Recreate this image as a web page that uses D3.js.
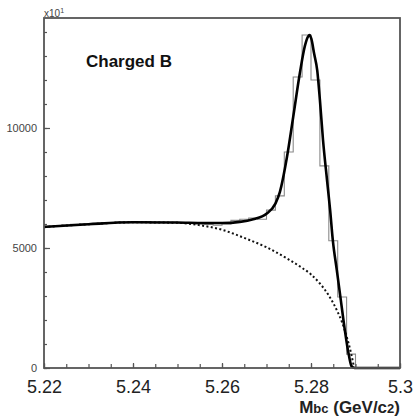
<!DOCTYPE html>
<html><head><meta charset="utf-8">
<script src="https://cdn.jsdelivr.net/npm/d3@7"></script>
<style>html,body{margin:0;padding:0;background:#fff;} svg{display:block;}</style>
</head><body><svg id="c" width="414" height="417"></svg>
<script>
// ---- data ----
const binLow = [5.220,5.222,5.224,5.226,5.228,5.230,5.232,5.234,5.236,5.238,
                5.240,5.242,5.244,5.246,5.248,5.250,5.252,5.254,5.256,5.258,
                5.260,5.262,5.264,5.266,5.268,5.270,5.272,5.274,5.276,5.278,
                5.280,5.282,5.284,5.286,5.288,5.290,5.292,5.294,5.296,5.298];
const binCounts = [5900,5930,5960,5990,6010,5990,6030,6050,6080,6060,
                   6080,6100,6050,6060,6070,6040,6020,6000,5980,5950,
                   6000,6150,6200,6250,6200,6580,7170,9000,12125,13875,
                   12000,8420,5300,2960,580,0,0,0,0,0];
const fitMass = [5.2200,5.2300,5.2400,5.2500,5.2560,5.2600,5.2640,5.2670,5.2700,5.2720,
                 5.2730,5.2746,5.2760,5.2775,5.2786,5.2793,5.2797,5.2801,5.2807,5.2814,
                 5.2820,5.2827,5.2836,5.2843,5.2849,5.2858,5.2867,5.2876,5.2885,5.2891,5.2898,5.3000];
const fitVals = [5875,5990,6070,6060,6040,6040,6090,6200,6430,6850,
                 7330,8790,10460,12290,13400,13800,13875,13700,13100,12400,
                 11170,9500,7830,6580,5330,4080,2830,1580,540,80,0,0];
const bgMass = [5.2200,5.2300,5.2400,5.2500,5.2550,5.2600,5.2650,5.2700,5.2750,5.2780,
                5.2800,5.2820,5.2840,5.2860,5.2870,5.2880,5.2890,5.2897];
const bgVals = [5875,5990,6070,6050,5950,5760,5420,5030,4520,4170,
                3900,3520,3020,2330,1900,1320,620,0];
const xMajorTicks = [5.22,5.24,5.26,5.28,5.30];
const xMajorLabels = ["5.22","5.24","5.26","5.28","5.3"];
const yMajorTicks = [0,5000,10000];
const yMajorLabels = ["0","5000","10000"];
const xDomain = [5.22,5.30];
const yDomain = [0,14583];

// ---- layout ----
const L = 44, R = 400, T = 18, B = 368;
const svg = d3.select("#c");
const font = "'Liberation Sans', Arial, Helvetica, sans-serif";
const x = d3.scaleLinear().domain(xDomain).range([L,R]);
const y = d3.scaleLinear().domain(yDomain).range([B,T]);

// histogram
const histPts = binLow.map((m,i)=>({m, v: binCounts[i]}));
histPts.push({m: xDomain[1], v: binCounts[binCounts.length-1]});
svg.append("path")
  .attr("d", d3.line().x(d=>x(d.m)).y(d=>y(d.v)).curve(d3.curveStepAfter)(histPts))
  .attr("fill","none").attr("stroke","#8a8a8a").attr("stroke-width",1.1);

// background (dotted)
svg.append("path")
  .attr("d", d3.line().x((d,i)=>x(bgMass[i])).y(d=>y(d)).curve(d3.curveMonotoneX)(bgVals))
  .attr("fill","none").attr("stroke","#111").attr("stroke-width",2)
  .attr("stroke-dasharray","2,2.4");

// fit (solid)
svg.append("path")
  .attr("d", d3.line().x((d,i)=>x(fitMass[i])).y(d=>y(d)).curve(d3.curveMonotoneX)(fitVals))
  .attr("fill","none").attr("stroke","#000").attr("stroke-width",2.6)
  .attr("stroke-linejoin","round");

// axes
const axCol = "#555";
const xMinor = d3.axisBottom(x).tickValues(d3.range(0,17).map(i=>xDomain[0]+i*0.005)).tickSize(-4).tickFormat("");
const xMajor = d3.axisBottom(x).tickValues(xMajorTicks).tickSize(-5).tickPadding(12)
  .tickFormat((d,i)=>xMajorLabels[i]);
const gx1 = svg.append("g").attr("transform",`translate(0,${B})`).call(xMinor);
const gx2 = svg.append("g").attr("transform",`translate(0,${B})`).call(xMajor);
const yMinor = d3.axisLeft(y).tickValues(d3.range(0,15).map(i=>i*1000)).tickSize(-3).tickFormat("");
const yMajor = d3.axisLeft(y).tickValues(yMajorTicks).tickSize(-6).tickPadding(7)
  .tickFormat((d,i)=>yMajorLabels[i]);
const gy1 = svg.append("g").attr("transform",`translate(${L},0)`).call(yMinor);
const gy2 = svg.append("g").attr("transform",`translate(${L},0)`).call(yMajor);
[gx1,gx2,gy1,gy2].forEach(g=>{
  g.select(".domain").remove();
  g.selectAll("line").attr("stroke",axCol).attr("stroke-width",1.2);
});
gx2.selectAll("text").attr("font-family",font).attr("font-size",18).attr("fill","#222");
gy2.selectAll("text").attr("font-family",font).attr("font-size",11).attr("fill","#444");

// frame
svg.append("rect").attr("x",L).attr("y",T).attr("width",R-L).attr("height",B-T)
  .attr("fill","none").attr("stroke",axCol).attr("stroke-width",1.8);

// exponent label
const ex = svg.append("text").attr("x",L).attr("y",17).attr("font-family",font)
  .attr("font-size",10).attr("fill","#444");
ex.append("tspan").text("x10");
ex.append("tspan").attr("dy",-4).attr("font-size",7).text("1");

// title text
svg.append("text").attr("x",86).attr("y",67).attr("font-family",font)
  .attr("font-weight","bold").attr("font-size",17).attr("fill","#111").text("Charged B");

// axis title
const at = svg.append("text").attr("x",R).attr("y",413).attr("text-anchor","end")
  .attr("font-family",font).attr("font-weight","bold").attr("font-size",17).attr("fill","#222");
at.append("tspan").text("M");
at.append("tspan").attr("font-size",13).text("bc");
at.append("tspan").text(" (GeV/c");
at.append("tspan").attr("font-size",13).text("2");
at.append("tspan").text(")");
</script>
</body></html>
